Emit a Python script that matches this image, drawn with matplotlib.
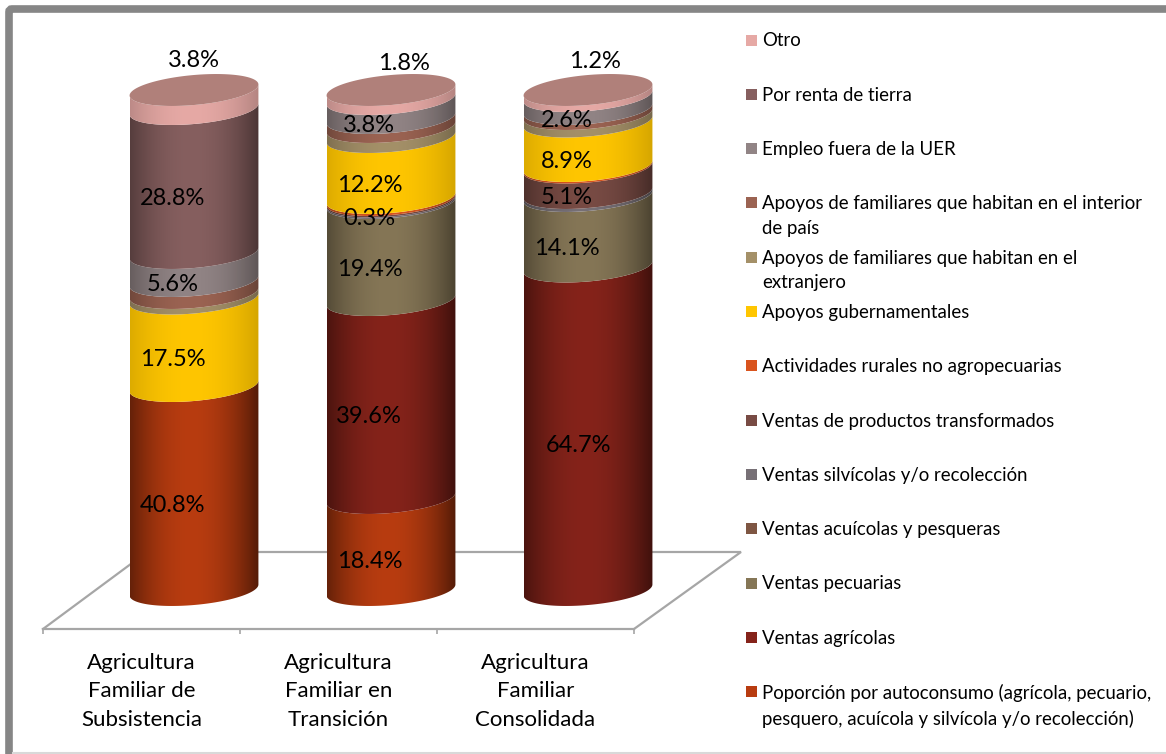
import numpy as np
import matplotlib
matplotlib.use("Agg")
import matplotlib.pyplot as plt
from matplotlib.patches import Polygon, FancyBboxPatch, Rectangle

plt.rcParams['font.family'] = ['Lato', 'DejaVu Sans']

W, H = 1166, 754

categories = ["Agricultura\nFamiliar de\nSubsistencia",
              "Agricultura\nFamiliar en\nTransición",
              "Agricultura\nFamiliar\nConsolidada"]

# stacked from the bottom upward
autoconsumo  = [40.8, 18.4, 0.0]
agricolas    = [0.0, 39.6, 64.7]
pecuarias    = [0.0, 19.4, 14.1]
acuicolas    = [0.0, 0.0, 0.0]
silvicolas   = [0.0, 0.3, 0.6]
transformados = [0.0, 0.3, 5.1]
rurales      = [0.0, 0.4, 0.3]
gubernament  = [17.5, 12.2, 8.9]
extranjero   = [1.1, 2.0, 1.5]
interior     = [2.4, 1.8, 1.0]
empleo       = [5.6, 3.8, 2.6]
renta        = [28.8, 0.0, 0.0]
otro         = [3.8, 1.8, 1.2]

series = [autoconsumo, agricolas, pecuarias, acuicolas, silvicolas, transformados,
          rurales, gubernament, extranjero, interior, empleo, renta, otro]
names = ["Poporción por autoconsumo (agrícola, pecuario,\npesquero, acuícola y silvícola y/o recolección)",
         "Ventas agrícolas", "Ventas pecuarias", "Ventas acuícolas y pesqueras",
         "Ventas silvícolas y/o recolección", "Ventas de productos transformados",
         "Actividades rurales no agropecuarias", "Apoyos gubernamentales",
         "Apoyos de familiares que habitan en el\nextranjero",
         "Apoyos de familiares que habitan en el interior\nde país",
         "Empleo fuera de la UER", "Por renta de tierra", "Otro"]
colors = ["#b83c10", "#85231a", "#857656", "#7e5643", "#777076", "#784b44", "#d9541e",
          "#ffc600", "#a49068", "#9b6352", "#918485", "#865f5f", "#e6a9a5"]
edge_shade = [0.5, 0.52, 0.6, 0.55, 0.6, 0.62, 0.7, 0.85, 0.75, 0.7, 0.68, 0.6, 0.8]
labelled = [0, 1, 2, 5, 7, 10, 11, 12]
label_moves = {(12, 0): (0.11, 105.9), (12, 1): (0.176, 105.3), (12, 2): (0.145, 105.7),
               (1, 2): (0.06, None)}

GRAY = "#a6a6a6"
fig = plt.figure(figsize=(W / 100, H / 100), dpi=100, facecolor="white")

# page frame and floor, laid out in pixels
bg = fig.add_axes([0, 0, 1, 1])
bg.set_xlim(0, W); bg.set_ylim(H, 0); bg.axis("off")
bg.add_patch(FancyBboxPatch((9, 9), W + 40, H + 40, boxstyle="round,pad=0,rounding_size=3",
                            fc="white", ec="#868686", lw=5.5, clip_on=True))
bg.plot([13, W], [752.5, 752.5], color="#d9d9d9", lw=1.5)
bg.plot([43, 147, 741, 634], [629, 552, 552, 629], color=GRAY, lw=1.6, solid_joinstyle="miter")

# category axis along the floor's front edge
px = lambda x0, y0, w, h: [x0 / W, 1 - (y0 + h) / H, w / W, h / H]
cat = fig.add_axes(px(43, 560, 591, 69))
cat.patch.set_alpha(0)
cat.set_xlim(-0.5, 2.5); cat.set_ylim(0, 1)
for s in ("top", "left", "right"):
    cat.spines[s].set_visible(False)
cat.spines["bottom"].set_color(GRAY); cat.spines["bottom"].set_linewidth(1.6)
cat.set_yticks([])
cat.set_xticks([-0.5, 0.5, 1.5, 2.5]); cat.set_xticklabels([])
cat.tick_params(axis="x", which="major", length=3.5, width=1.2, color=GRAY)
cat.set_xticks(range(3), minor=True)
cat.set_xticklabels(categories, minor=True, fontsize=16, linespacing=1.55, color="black")
cat.tick_params(axis="x", which="minor", length=0, pad=17)

# cylinders
ax = fig.add_axes(px(95.5, 40, 591, 600))
ax.patch.set_alpha(0)
ax.axis("off")
RX, RY, TILT = 0.327, 3.0, 1.1
t = np.linspace(np.pi, 0, 120)
ux = np.linspace(-1, 1, 256)
vals = np.array(series)
tops = vals.cumsum(axis=0)
for j in range(len(categories)):
    for i, row in enumerate(series):
        v = row[j]
        if v <= 0:
            continue
        lo, hi = tops[i, j] - v, tops[i, j]
        xs = j + RX * np.cos(t)
        arc = RY * np.sin(t) - TILT * np.cos(t)
        pts = np.r_[np.c_[xs, lo - arc], np.c_[xs[::-1], hi - arc[::-1]]]
        clip = Polygon(pts, closed=True, transform=ax.transData, fc="none", ec="none")
        ax.add_patch(clip)
        e = edge_shade[i]
        s = e + (1 - e) * (1 - np.abs(ux + 0.05) ** 2.0)
        rgb = np.array(matplotlib.colors.to_rgb(colors[i]))
        img = np.clip(s[None, :, None] * rgb[None, None, :], 0, 1)
        im = ax.imshow(img, extent=(j - RX, j + RX, lo - 6, hi + 6), aspect="auto",
                       interpolation="bilinear", origin="lower", zorder=2)
        im.set_clip_path(clip)
    # lid of the stack
    tt = np.linspace(0, 2 * np.pi, 200)
    lid = np.c_[j + RX * np.cos(tt), tops[-1, j] - RY * np.sin(tt) + TILT * np.cos(tt)]
    ax.add_patch(Polygon(lid, closed=True, fc="#b0807a", ec="none", zorder=3))

for j in range(len(categories)):
    for i in labelled:
        v = series[i][j]
        if v <= 0:
            continue
        x = j - 0.11
        y = tops[i, j] - v / 2 - 3.5
        if (i, j) in label_moves:
            dx, new_y = label_moves[(i, j)]
            x += dx
            y = y if new_y is None else new_y
        ax.text(x, y, f"{v:.1f}%", ha="center", va="center", fontsize=17, color="black", zorder=5)

ax.set_xlim(-0.5, 2.5)
ax.set_ylim(-10, 110)

# legend, top entry first
for k, i in enumerate(range(len(names) - 1, -1, -1)):
    y = 40 + 54.3 * k
    bg.add_patch(Rectangle((746, y - 5.5), 11, 11, fc=colors[i], ec="none"))
    bg.text(762, y - 7.5, names[i], fontsize=13.4, va="top", ha="left", linespacing=1.52, color="black")

fig.savefig("out.png", dpi=100)
